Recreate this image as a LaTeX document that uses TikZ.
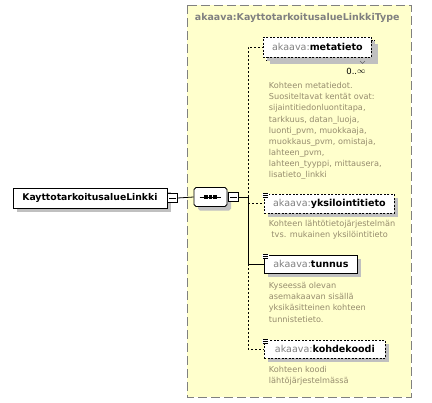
\documentclass[tikz,border=0pt]{standalone}
\usepackage{fontspec}
\setmainfont{DejaVu Sans}
\usetikzlibrary{shadows,shapes.misc}

\definecolor{typefill}{RGB}{255,255,204}
\definecolor{typeedge}{RGB}{128,128,128}
\definecolor{shadowgray}{RGB}{192,192,192}
\definecolor{doctext}{RGB}{150,140,110}
\definecolor{prefixgray}{RGB}{128,128,128}

\newcommand{\elname}[1]{{\color{prefixgray}akaava:}\textbf{#1}}
\newcommand{\docmark}[1]{%
  \fill[white] ([shift={(-2bp,1bp)}]#1.north west) rectangle +(7bp,-5.5bp);
  \foreach \k in {0,1.6,3.2} \draw[line width=0.6bp] ([shift={(-1.5bp,-\k bp)}]#1.north west) -- +(5.5bp,0);}

\tikzset{
  elembox/.style={draw, fill=white, minimum height=19bp, inner xsep=2bp, inner ysep=0pt,
    font=\fontsize{9.6}{11}\selectfont,
    drop shadow={shadow xshift=4bp, shadow yshift=-4bp, fill=shadowgray, opacity=1}},
  optbox/.style={elembox, dash pattern=on 2bp off 1.5bp},
  doc/.style={anchor=north west, align=left, inner sep=0pt, text=doctext,
    font=\fontsize{8.2}{11.2}\selectfont},
  optline/.style={dash pattern=on 2bp off 2bp},
  minusbox/.style={draw, fill=white, minimum size=9.5bp, inner sep=0pt},
}

\begin{document}
\begin{tikzpicture}[x=1bp, y=-1bp, line width=0.8bp]
	\useasboundingbox (0,0) rectangle (432,403);

	% o tipo
		\draw[typeedge, fill=typefill, dash pattern=on 9bp off 4bp] (187,5) rectangle (411,397);
		\node[anchor=west, inner sep=0pt, text=prefixgray, font=\bfseries\fontsize{9.5}{11}\selectfont] (typename) at (194.5,18) {akaava:KayttotarkoitusalueLinkkiType};

	% a raiz e a sequencia
		\node[elembox, anchor=west, minimum width=154bp, minimum height=20bp, font=\fontsize{9.3}{11}\selectfont] (root) at (12.5,198) {\textbf{KayttotarkoitusalueLinkki}};
		\node[minusbox, anchor=west] (rootminus) at (root.east) {};
		\draw ([xshift=2bp]rootminus.west) -- ([xshift=-2bp]rootminus.east);

		\node[elembox, chamfered rectangle, chamfered rectangle xsep=0pt, chamfered rectangle angle=45, chamfered rectangle sep=5bp,
			minimum width=33bp, minimum height=19bp] (seq) at (210.5,197) {};
		\draw ([xshift=6bp]seq.west) -- ([xshift=-6bp]seq.east);
		\foreach \dx in {-4.5,0,4.5}
			\fill ([xshift=\dx bp]seq.center) +(-1.6,-1.6) rectangle +(1.6,1.6);
		\node[minusbox, anchor=west] (seqminus) at ([xshift=1bp]seq.east) {};
		\draw ([xshift=2bp]seqminus.west) -- ([xshift=-2bp]seqminus.east);
		\draw (rootminus.east) -- (seq.west);

		\coordinate (spine) at (248,197);
		\draw (seqminus.east) -- (spine);

	% os elementos filhos
		\node[optbox, anchor=west, minimum width=108bp, minimum height=20bp] (metaback) at (266,50) {};
		\node[optbox, drop shadow={opacity=0}, anchor=west, minimum width=108bp, minimum height=20bp] (metatieto) at (263,47) {\elname{metatieto}};
		\draw[black!60, line width=0.6bp] (360,61) -- (362.5,63.5) -- (365,61);
		\node[anchor=west, inner sep=0pt, font=\fontsize{8.5}{10}\selectfont] (metamult) at (346,71) {0..\raisebox{0.15ex}{$\infty$}};
		\node[doc] (metadoc) at (268.5,82) {Kohteen metatiedot.\\Suositeltavat kentät ovat:\\sijaintitiedonluontitapa,\\tarkkuus, datan\_luoja,\\luonti\_pvm, muokkaaja,\\muokkaus\_pvm, omistaja,\\lahteen\_pvm,\\lahteen\_tyyppi, mittausera,\\lisatieto\_linkki};

		\node[optbox, anchor=west, minimum width=130bp, minimum height=19bp] (yksi) at (264,203.5) {\elname{yksilointitieto}};
		\docmark{yksi}
		\node[doc] (yksidoc) at (268.5,220) {Kohteen lähtötietojärjestelmän\\\ tvs. mukainen yksilöintitieto};

		\node[elembox, anchor=west, minimum width=93bp, minimum height=18bp] (tunnus) at (264,264) {\elname{tunnus}};
		\docmark{tunnus}
		\node[doc] (tunnusdoc) at (268.5,282) {Kyseessä olevan\\asemakaavan sisällä\\yksikäsitteinen kohteen\\tunnistetieto.};

		\node[optbox, anchor=west, minimum width=121bp, minimum height=18bp] (kohde) at (264,349) {\elname{kohdekoodi}};
		\docmark{kohde}
		\node[doc] (kohdedoc) at (268.5,366) {Kohteen koodi\\lähtöjärjestelmässä};

	% as ligacoes
		\draw[optline] (spine) |- (metatieto.west);
		\draw (spine) |- (tunnus.west);
		\draw[optline] (spine |- yksi.west) -- (yksi.west);
		\draw[optline] (spine |- tunnus.west) |- (kohde.west);
\end{tikzpicture}
\end{document}
